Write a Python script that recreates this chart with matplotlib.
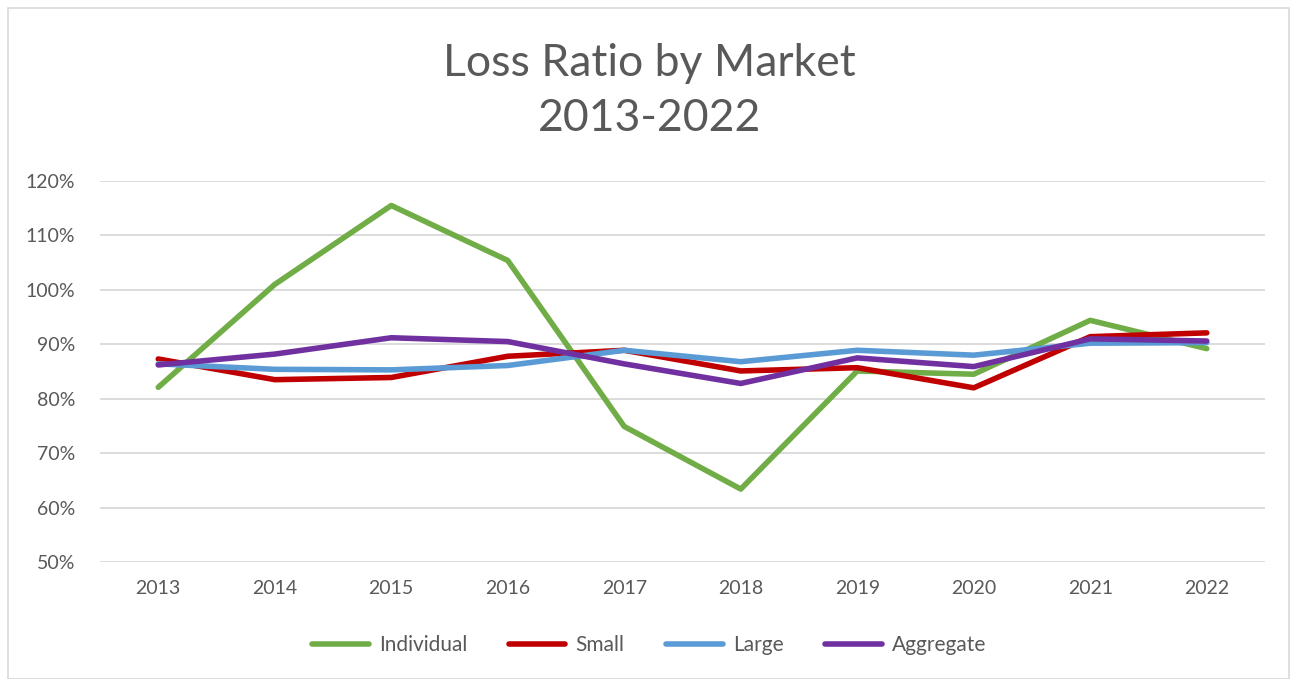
import matplotlib
matplotlib.use("Agg")
import matplotlib.pyplot as plt
from matplotlib.patches import Rectangle
from matplotlib.ticker import FuncFormatter

years = ["2013", "2014", "2015", "2016", "2017", "2018", "2019", "2020", "2021", "2022"]
individual = [82.1, 101.0, 115.5, 105.4, 74.9, 63.4, 85.1, 84.5, 94.4, 89.2]
small = [87.3, 83.5, 83.9, 87.8, 88.9, 85.1, 85.7, 82.0, 91.4, 92.1]
large = [86.4, 85.4, 85.3, 86.1, 88.9, 86.8, 88.9, 88.0, 90.2, 90.3]
aggregate = [86.2, 88.2, 91.2, 90.5, 86.4, 82.8, 87.5, 85.9, 91.0, 90.6]

series = [
    ("Individual", individual, "#70AD47"),
    ("Small", small, "#C00000"),
    ("Large", large, "#5B9BD5"),
    ("Aggregate", aggregate, "#7030A0"),
]

text_color = "#595959"
plt.rcParams["font.family"] = ["Lato", "DejaVu Sans"]

fig = plt.figure(figsize=(12.91, 6.79), dpi=100)
ax = fig.add_axes([100 / 1291, 1 - 562 / 679, 1165 / 1291, 381 / 679])

x = list(range(len(years)))
for name, vals, color in series:
    ax.plot(x, vals, color=color, linewidth=4, label=name, solid_capstyle="round")

ax.set_xlim(-0.5, len(years) - 0.5)
ax.set_ylim(50, 120)
ax.set_yticks(range(50, 121, 10))
ax.yaxis.set_major_formatter(FuncFormatter(lambda v, p: "{:.0f}%".format(v)))
ax.set_xticks(x)
ax.set_xticklabels(years)
ax.grid(axis="y", color="#D9D9D9", linewidth=1.3)
ax.set_axisbelow(True)
for s in ax.spines.values():
    s.set_visible(False)
ax.tick_params(length=0, colors=text_color, labelsize=14)
ax.tick_params(axis="x", pad=13)
ax.tick_params(axis="y", pad=18)

fig.text(0.503, 0.907, "Loss Ratio by Market", ha="center", va="center",
         fontsize=32, color=text_color)
fig.text(0.503, 0.826, "2013-2022", ha="center", va="center",
         fontsize=32, color=text_color)

leg = fig.legend(loc="center", bbox_to_anchor=(0.503, 1 - 645 / 679), ncol=4,
                 frameon=False, fontsize=15, handlelength=2.7, columnspacing=2.0,
                 handletextpad=0.5)
for t in leg.get_texts():
    t.set_color(text_color)

fig.patches.append(Rectangle((8 / 1291, 0), 1281 / 1291, 1 - 8 / 679,
                             transform=fig.transFigure, fill=False,
                             edgecolor="#D9D9D9", linewidth=1.2))

fig.savefig("out.png", dpi=100)
